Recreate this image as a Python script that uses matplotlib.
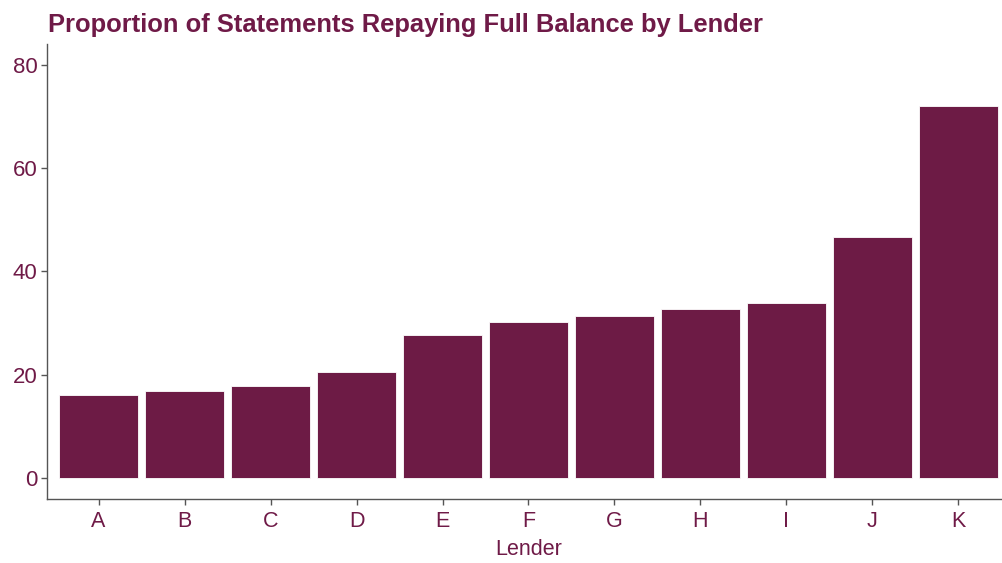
import matplotlib
matplotlib.use("Agg")
import matplotlib.pyplot as plt
import numpy as np

# Data
lenders = ['A', 'B', 'C', 'D', 'E', 'F', 'G', 'H', 'I', 'J', 'K']
proportion = [16.0, 16.9, 17.7, 20.5, 27.6, 30.2, 31.3, 32.6, 33.8, 46.7, 72.0]
y_ticks = [0, 20, 40, 60, 80]

bar_color = '#6d1b45'
text_color = '#6f1a47'

plt.rcParams['font.family'] = ['Liberation Sans', 'DejaVu Sans']

fig = plt.figure(figsize=(10.03, 5.63), dpi=100)
# axes box in pixels: left 47, right 1010 (runs off the edge), top 44, bottom 498.5
ax = fig.add_axes([47 / 1003, 1 - 498.5 / 563, 963 / 1003, 454.5 / 563])

x_pos = np.arange(len(lenders))
ax.bar(x_pos, proportion, width=0.92, color=bar_color, edgecolor='white', linewidth=0.6)

ax.set_xlim(-0.6, len(lenders) - 0.4)
ax.set_ylim(-4, 84)
ax.set_xticks(x_pos)
ax.set_xticklabels(lenders)
ax.set_yticks(y_ticks)

ax.spines['top'].set_visible(False)
ax.spines['right'].set_visible(False)
for side in ['left', 'bottom']:
    ax.spines[side].set_color('#555555')
    ax.spines[side].set_linewidth(1.0)

ax.tick_params(axis='both', colors='#555555', length=4, width=1.0, labelsize=15.5,
               labelcolor=text_color, pad=3)
ax.tick_params(axis='x', pad=5)
ax.tick_params(axis='y', labelsize=16)

ax.set_xlabel('Lender', fontsize=15.5, color=text_color, labelpad=5)
fig.text(48 / 1003, 1 - 32 / 563, 'Proportion of Statements Repaying Full Balance by Lender',
         fontsize=18.4, fontweight='bold', color=text_color, ha='left', va='baseline')

fig.savefig('out.png', dpi=100)
